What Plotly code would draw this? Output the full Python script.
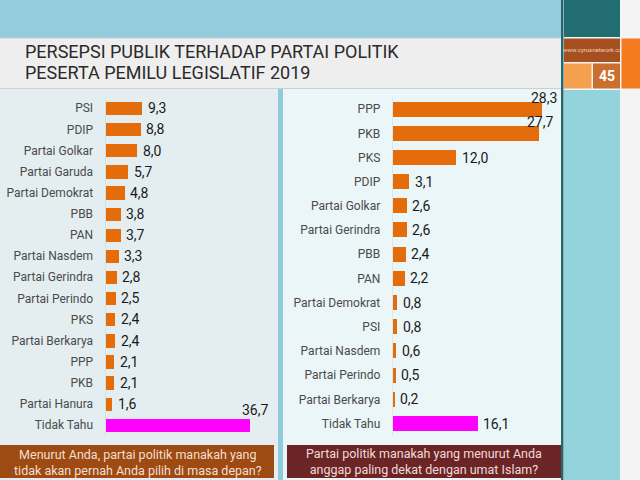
import plotly.graph_objects as go

# ---------------- data ----------------
left_categories = ["PSI", "PDIP", "Partai Golkar", "Partai Garuda", "Partai Demokrat", "PBB", "PAN",
                   "Partai Nasdem", "Partai Gerindra", "Partai Perindo", "PKS", "Partai Berkarya",
                   "PPP", "PKB", "Partai Hanura", "Tidak Tahu"]
left_values = [9.3, 8.8, 8.0, 5.7, 4.8, 3.8, 3.7, 3.3, 2.8, 2.5, 2.4, 2.4, 2.1, 2.1, 1.6, 36.7]

right_categories = ["PPP", "PKB", "PKS", "PDIP", "Partai Golkar", "Partai Gerindra", "PBB", "PAN",
                    "Partai Demokrat", "PSI", "Partai Nasdem", "Partai Perindo", "Partai Berkarya",
                    "Tidak Tahu"]
right_values = [28.3, 27.7, 12.0, 3.1, 2.6, 2.6, 2.4, 2.2, 0.8, 0.8, 0.6, 0.5, 0.2, 16.1]

title_lines = ["PERSEPSI PUBLIK TERHADAP PARTAI POLITIK", "PESERTA PEMILU LEGISLATIF 2019"]
left_question = ["Menurut Anda, partai politik manakah yang", "tidak akan pernah Anda pilih di masa depan?"]
right_question = ["Partai politik manakah yang menurut Anda", "anggap paling dekat dengan umat Islam?"]
page_number = "45"
site = "www.cyrusnetwork.co"

# ---------------- style ----------------
W, H = 640, 480
ORANGE = "#E46C0A"
MAGENTA = "#FF00FF"
FONT = "Roboto"


def bar_colors(cats):
    return [MAGENTA if c == "Tidak Tahu" else ORANGE for c in cats]


def fmt(v):
    return f"{v:.1f}".replace(".", ",")


def px_rect(x0, y0, x1, y1, color, layer="below"):
    return dict(type="rect", xref="paper", yref="paper", x0=x0 / W, x1=x1 / W,
                y0=1 - y1 / H, y1=1 - y0 / H, fillcolor=color, line=dict(width=0), layer=layer)


def px_text(x, y, text, size, color, xanchor="center", family=FONT, bold=False):
    return dict(xref="paper", yref="paper", x=x / W, y=1 - y / H, text=f"<b>{text}</b>" if bold else text,
                showarrow=False, xanchor=xanchor, yanchor="middle",
                font=dict(family=family, size=size, color=color))


fig = go.Figure()
fig.add_trace(go.Bar(x=left_values, y=left_categories, orientation="h",
                     marker=dict(color=bar_colors(left_categories), line=dict(width=0)),
                     width=0.63, xaxis="x", yaxis="y", hoverinfo="skip"))
fig.add_trace(go.Bar(x=right_values, y=right_categories, orientation="h",
                     marker=dict(color=bar_colors(right_categories), line=dict(width=0)),
                     width=0.62, xaxis="x2", yaxis="y2", hoverinfo="skip"))

annotations = []


def value_labels(cats, vals, xref, yref, limit, above_dx, above_dy):
    out = []
    for c, v in zip(cats, vals):
        if v > limit:
            out.append(dict(x=v, y=c, xref=xref, yref=yref, text=fmt(v), showarrow=False,
                            xanchor="center", yanchor="middle", xshift=above_dx, yshift=above_dy,
                            font=dict(family=FONT, size=14, color="#1a1a1a")))
        else:
            out.append(dict(x=v, y=c, xref=xref, yref=yref, text=fmt(v), showarrow=False,
                            xanchor="left", yanchor="middle", xshift=4,
                            font=dict(family=FONT, size=14, color="#1a1a1a")))
    return out


annotations += value_labels(left_categories, left_values, "x", "y", 30, 6, 15)
annotations += value_labels(right_categories, right_values, "x2", "y2", 20, 2, 11)

# titles & captions
annotations.append(px_text(23, 51.5, title_lines[0], 18, "#2a2a2a", xanchor="left"))
annotations.append(px_text(23, 72, title_lines[1], 18, "#2a2a2a", xanchor="left"))
annotations.append(px_text(137.5, 462, "<br>".join(left_question), 12.5, "#F3DFCF"))
annotations.append(px_text(424, 461.5, "<br>".join(right_question), 12.5, "#EFDADA"))
annotations.append(px_text(592, 50, site, 6, "#F3D2B5"))
annotations.append(px_text(606.5, 76, page_number, 14, "#FFFFFF", bold=True))

shapes = [
    px_rect(0, 0, 561, 37.5, "#93CDDD"),
    px_rect(0, 37.5, 561, 38.5, "#9EB4BA"),
    px_rect(0, 38.5, 561, 88, "#EEEEEE"),
    px_rect(0, 88, 561, 89, "#CFCFCF"),
    px_rect(0, 89, 278, 480, "#E4EEF1"),
    px_rect(278, 89, 283, 480, "#8FCCDA"),
    px_rect(283, 89, 561, 480, "#EBF6F8"),
    px_rect(0, 445, 274, 478, "#9D4A13"),
    px_rect(287, 445, 561, 478, "#6C2525"),
    px_rect(561, 0, 563.5, 480, "#24686D"),
    px_rect(564, 0, 620, 37, "#216D72"),
    px_rect(564, 38.5, 620, 62, "#A65021"),
    px_rect(564, 63.5, 591.5, 88.5, "#F5A04F"),
    px_rect(593, 63.5, 620, 88.5, "#C9702F"),
    px_rect(621.5, 38.5, 640, 88.5, "#F47B20"),
    px_rect(564, 90, 620, 480, "#93D4DC"),
]

L_X0, L_X1, L_SCALE = 105.5, 275, 3.92
R_X0, R_X1, R_SCALE = 392.7, 558, 5.26

axis_common = dict(showgrid=False, zeroline=False)
fig.update_layout(
    width=W, height=H, margin=dict(l=0, r=0, t=0, b=0),
    paper_bgcolor="#F4F4F4", plot_bgcolor="rgba(0,0,0,0)",
    showlegend=False, bargap=0,
    shapes=shapes, annotations=annotations,
    xaxis=dict(domain=[L_X0 / W, L_X1 / W], range=[0, (L_X1 - L_X0) / L_SCALE], visible=False,
               anchor="y", fixedrange=True, **axis_common),
    yaxis=dict(domain=[1 - 435.6 / H, 1 - 97.7 / H], type="category",
               categoryorder="array", categoryarray=left_categories,
               range=[len(left_categories) - 0.5, -0.5], anchor="x",
               ticks="outside", ticklen=9, tickcolor="rgba(0,0,0,0)",
               showline=True, linecolor="#D3DFE3", linewidth=1,
               tickfont=dict(family=FONT, size=12, color="#4a4a4a"), fixedrange=True, **axis_common),
    xaxis2=dict(domain=[R_X0 / W, R_X1 / W], range=[0, (R_X1 - R_X0) / R_SCALE], visible=False,
                anchor="y2", fixedrange=True, **axis_common),
    yaxis2=dict(domain=[1 - 435.6 / H, 1 - 97.1 / H], type="category",
                categoryorder="array", categoryarray=right_categories,
                range=[len(right_categories) - 0.5, -0.5], anchor="x2",
                ticks="outside", ticklen=9, tickcolor="rgba(0,0,0,0)",
                showline=True, linecolor="#DCE8EB", linewidth=1,
                tickfont=dict(family=FONT, size=12, color="#4a4a4a"), fixedrange=True, **axis_common),
)

fig.write_html("out.html", config={"displayModeBar": False},
               post_script="document.body.style.margin='0px';document.body.style.overflow='hidden';")
